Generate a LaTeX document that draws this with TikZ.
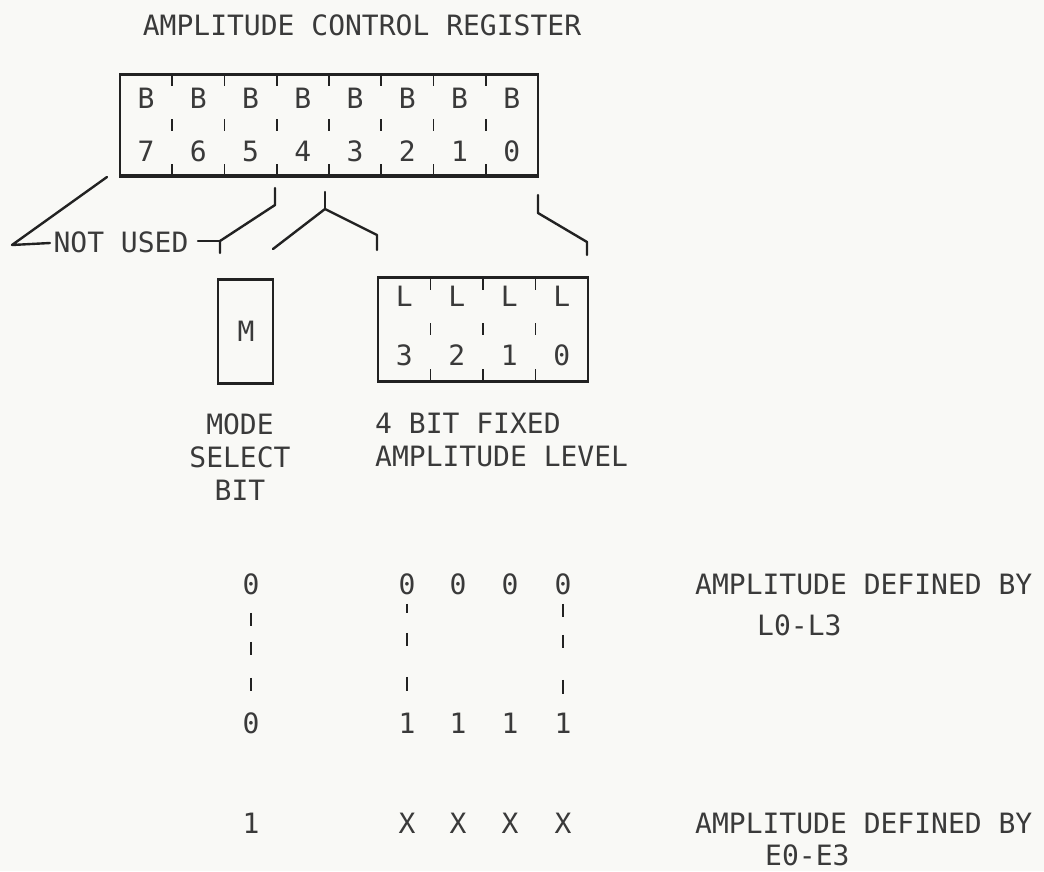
\documentclass[tikz,border=0pt]{standalone}
\usepackage{fontspec}
\setmonofont{DejaVu Sans Mono}
\usetikzlibrary{positioning}
\definecolor{ScanInk}{HTML}{222222}
\definecolor{ScanText}{HTML}{3A3A3A}
\definecolor{ScanPaper}{HTML}{F9F9F6}
\tikzset{
  regtext/.style={font=\ttfamily\fontsize{28}{33}\selectfont,text=ScanText,inner sep=0pt},
  regbox/.style={draw=ScanInk,line width=1.8pt,inner sep=0pt},
  edgeline/.style={draw=ScanInk,line width=3pt},
  celltick/.style={draw=ScanInk,line width=1.6pt},
  leader/.style={draw=ScanInk,line width=2.4pt,line join=round,line cap=round}
}
\begin{document}
\begin{tikzpicture}[x=1pt,y=-1pt]
\fill[ScanPaper] (0,0) rectangle (1044,871);
\node[regtext] (title) at (362,25) {AMPLITUDE CONTROL REGISTER};
\node[regbox,minimum width=418pt,minimum height=100pt] (reg) at (329,125) {};
\draw[edgeline] (reg.north west) -- (reg.north east);
\draw[edgeline,line width=3.6pt] (reg.south west) -- (reg.south east);
\foreach \k in {1,...,7}{
  \draw[celltick] ({120+52.25*\k},75) -- ++(0,11) ({120+52.25*\k},119) -- ++(0,12) ({120+52.25*\k},164) -- ++(0,11);
}
\foreach \bit [count=\k from 0] in {7,6,...,0}{
  \node[regtext] (b\bit) at ({120+52.25*(\k+0.5)},98) {B};
  \node[regtext] (n\bit) at ({120+52.25*(\k+0.5)},151) {\bit};
}
\node[regbox,minimum width=55pt,minimum height=103pt] (mbox) at (245.5,331.5) {};
\draw[edgeline] (mbox.north west) -- (mbox.north east);
\draw[edgeline] (mbox.south west) -- (mbox.south east);
\node[regtext] (mlab) at (246,331) {M};
\node[regbox,minimum width=210pt,minimum height=103pt] (lbox) at (483,329.5) {};
\draw[edgeline] (lbox.north west) -- (lbox.north east);
\draw[edgeline] (lbox.south west) -- (lbox.south east);
\foreach \k in {1,2,3}{
  \draw[celltick] ({378+52.5*\k},279) -- ++(0,11) ({378+52.5*\k},323) -- ++(0,12) ({378+52.5*\k},369) -- ++(0,11);
}
\foreach \lev [count=\k from 0] in {3,2,1,0}{
  \node[regtext] (l\lev) at ({378+52.5*(\k+0.5)},296) {L};
  \node[regtext] (d\lev) at ({378+52.5*(\k+0.5)},355) {\lev};
}
\coordinate (unusedtip) at (107,177);
\coordinate (mleft) at (220,253);
\coordinate (mright) at (273,249);
\coordinate (lleft) at (377,250);
\coordinate (lright) at (587,255);
\node[regtext] (unused) at (121,242) {NOT USED};
\draw[leader] (unusedtip) -- (12,245) -- (50,243);
\draw[leader] (198,241) -- (220,241);
\draw[leader] (mleft) -- ++(0,-12) -- (275,205) -- (275,188);
\draw[leader] (mright) -- (325,209) -- (377,235) -- (lleft);
\draw[leader] (325,209) -- (325,192);
\draw[leader] (lright) -- ++(0,-13) -- (538,213) -- (538,195);
\node[regtext,align=center] (modelab) at (240,457) {MODE\\SELECT\\BIT};
\node[regtext,align=left,anchor=west] (levellab) at (375,440) {4 BIT FIXED\\AMPLITUDE LEVEL};
\node[regtext] (mode0) at (251,584) {0};
\node[regtext] (mode0b) at (251,723) {0};
\node[regtext] (mode1) at (251,823) {1};
\foreach \x [count=\c] in {407,458,510,563}{
  \node[regtext] (lo\c) at (\x,584) {0};
  \node[regtext] (hi\c) at (\x,723) {1};
  \node[regtext] (ex\c) at (\x,823) {X};
}
\draw[celltick,line width=1.8pt,dash pattern=on 0pt off 18pt on 13pt off 16pt on 13pt off 23pt on 13pt off 40pt] (mode0.south) -- (mode0b.north);
\draw[celltick,line width=1.8pt,dash pattern=on 0pt off 9pt on 9pt off 20pt on 13pt off 31pt on 14pt off 40pt] (lo1.south) -- (hi1.north);
\draw[celltick,line width=1.8pt,dash pattern=on 0pt off 9pt on 13pt off 18pt on 13pt off 32pt on 14pt off 40pt] (lo4.south) -- (hi4.north);
\node[regtext,anchor=west] (deflo) at (695,584) {AMPLITUDE DEFINED BY};
\node[regtext,anchor=west] (lrange) at (757,625) {L0-L3};
\node[regtext,anchor=west] (defex) at (695,823) {AMPLITUDE DEFINED BY};
\node[regtext,anchor=west] (erange) at (765,855) {E0-E3};
\end{tikzpicture}
\end{document}
